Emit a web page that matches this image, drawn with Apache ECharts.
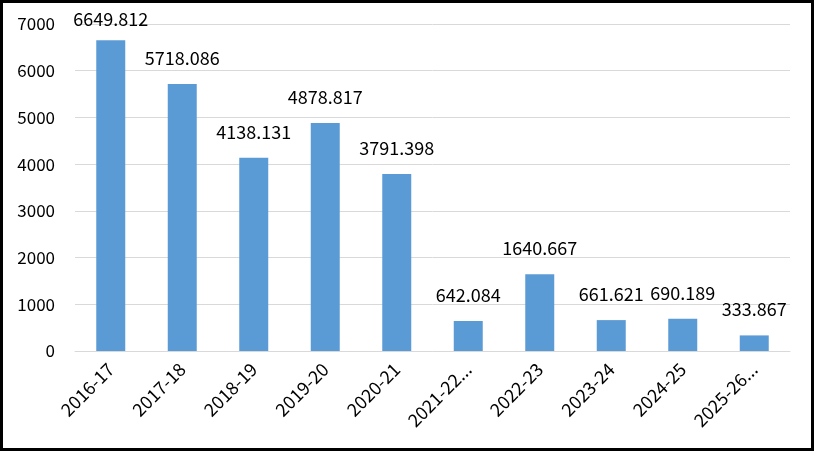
<!DOCTYPE html>
<html><head><meta charset="utf-8">
<script src="https://cdn.jsdelivr.net/npm/echarts@6/dist/echarts.min.js"></script>
<style>
html,body{margin:0;padding:0;background:#fff;}
#wrap{width:814px;height:451px;box-sizing:border-box;border:3px solid #000;}
#c{width:808px;height:445px;}
</style></head>
<body><div id="wrap"><div id="c"></div></div>
<script>
const categories = ["2016-17","2017-18","2018-19","2019-20","2020-21","2021-22...","2022-23","2023-24","2024-25","2025-26..."];
const values = [6649.812,5718.086,4138.131,4878.817,3791.398,642.084,1640.667,661.621,690.189,333.867];
const yMin = 0, yMax = 7000, yStep = 1000;

const font = "'Noto Sans CJK KR', 'Noto Sans', sans-serif";
const chart = echarts.init(document.getElementById('c'), null, {renderer:'canvas'});
chart.setOption({
  animation:false,
  textStyle:{fontFamily:font},
  grid:{left:72,right:21,top:21,bottom:97,containLabel:false},
  xAxis:{
    type:'category', data:categories,
    axisLine:{show:true,lineStyle:{color:'#d9d9d9',width:1}},
    axisTick:{show:false},
    axisLabel:{rotate:45,interval:0,color:'#000',fontSize:18,fontFamily:font,margin:15}
  },
  yAxis:{
    type:'value', min:yMin, max:yMax, interval:yStep,
    axisLine:{show:false}, axisTick:{show:false},
    splitLine:{lineStyle:{color:'#d9d9d9',width:1}},
    axisLabel:{color:'#000',fontSize:17,fontFamily:font,margin:20,formatter:v=>String(v)}
  },
  series:[{
    type:'bar',
    data:values.map((v,i)=> i===0 ? {value:v,label:{distance:12}} : v),
    barWidth:29,
    itemStyle:{color:'#5b9bd5'},
    label:{show:true,position:'top',distance:17,color:'#000',fontSize:18,fontFamily:font,
      formatter:p=>String(p.value)}
  }]
});
</script></body></html>
